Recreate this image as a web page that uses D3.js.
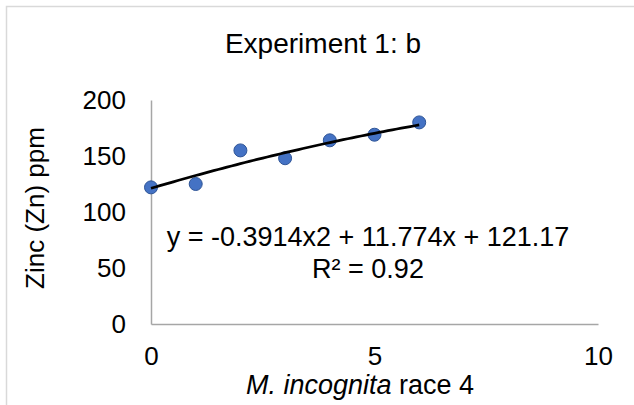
<!DOCTYPE html>
<html>
<head>
<meta charset="utf-8">
<script src="https://cdn.jsdelivr.net/npm/d3@7"></script>
<style>
  html, body { margin: 0; padding: 0; background: #fff; }
  svg { display: block; font-family: "Liberation Sans", Arial, sans-serif; }
</style>
</head>
<body>
<svg id="chart" width="634" height="405"></svg>
<script>
// Nematode dose (x) and zinc concentration (y)
const xValues = [0, 1, 2, 3, 4, 5, 6];
const zincPpm = [122, 125, 155, 148, 164, 169, 180];
const xTicks = [0, 5, 10];
const yTicks = [0, 50, 100, 150, 200];
// Polynomial trendline coefficients: y = a*x^2 + b*x + c
const trendCoef = [-0.3914, 11.774, 121.17];
const trendEquation = "y = -0.3914x2 + 11.774x + 121.17";
const trendR2 = "R² = 0.92";
const chartTitle = "Experiment 1: b";
const yTitle = "Zinc (Zn) ppm";

const FONT = "Liberation Sans, Arial, sans-serif";
const svg = d3.select("#chart");
const W = 634, H = 405;

// chart area frame
svg.append("rect")
  .attr("x", 6.5).attr("y", 6.5)
  .attr("width", W + 10).attr("height", H + 10)
  .attr("fill", "none").attr("stroke", "#d9d9d9").attr("stroke-width", 1.5);

const plot = { left: 151, right: 598, top: 100, bottom: 324 };
const x = d3.scaleLinear().domain([0, 10]).range([plot.left, plot.right]);
const y = d3.scaleLinear().domain([0, 200]).range([plot.bottom, plot.top]);

// title
svg.append("text")
  .attr("x", 323).attr("y", 53)
  .attr("text-anchor", "middle")
  .attr("font-size", 28).attr("fill", "#000")
  .text(chartTitle);

// y axis
const yAxis = svg.append("g")
  .attr("transform", `translate(${plot.left},0)`)
  .call(d3.axisLeft(y).tickValues(yTicks).tickSize(0).tickPadding(25));
yAxis.select(".domain").attr("stroke", "#a6a6a6").attr("stroke-width", 1.5);
yAxis.selectAll("text").attr("font-size", 26).attr("fill", "#000")
  .attr("font-family", FONT);

// x axis
const xAxis = svg.append("g")
  .attr("transform", `translate(0,${plot.bottom})`)
  .call(d3.axisBottom(x).tickValues(xTicks).tickSize(0).tickPadding(23));
xAxis.select(".domain").attr("stroke", "#a6a6a6").attr("stroke-width", 1.5);
xAxis.selectAll("text").attr("font-size", 26).attr("fill", "#000")
  .attr("font-family", FONT);

// axis titles
const xt = svg.append("text")
  .attr("x", 360).attr("y", 394)
  .attr("text-anchor", "middle")
  .attr("font-size", 27).attr("fill", "#000");
xt.append("tspan").attr("font-style", "italic").text("M. incognita");
xt.append("tspan").text(" race 4");

svg.append("text")
  .attr("transform", "translate(44,208) rotate(-90)")
  .attr("text-anchor", "middle")
  .attr("font-size", 26).attr("fill", "#000")
  .text(yTitle);

// trendline evaluated from the fitted polynomial
const xMax = d3.max(xValues);
const trendPts = d3.range(0, xMax + 0.001, 0.1).map(v =>
  [v, trendCoef[0] * v * v + trendCoef[1] * v + trendCoef[2]]);

// markers
const pts = xValues.map((v, i) => [v, zincPpm[i]]);
svg.append("g").selectAll("circle")
  .data(pts).join("circle")
  .attr("cx", d => x(d[0])).attr("cy", d => y(d[1]))
  .attr("r", 6.5)
  .attr("fill", "#4472c4")
  .attr("stroke", "#2f5597").attr("stroke-width", 1);

svg.append("path")
  .datum(trendPts)
  .attr("fill", "none").attr("stroke", "#000").attr("stroke-width", 2.75)
  .attr("d", d3.line().x(d => x(d[0])).y(d => y(d[1])));

// equation label
svg.append("text")
  .attr("x", 368).attr("y", 246)
  .attr("text-anchor", "middle")
  .attr("font-size", 27).attr("fill", "#000")
  .text(trendEquation);
svg.append("text")
  .attr("x", 368).attr("y", 278)
  .attr("text-anchor", "middle")
  .attr("font-size", 27).attr("fill", "#000")
  .text(trendR2);
</script>
</body>
</html>
